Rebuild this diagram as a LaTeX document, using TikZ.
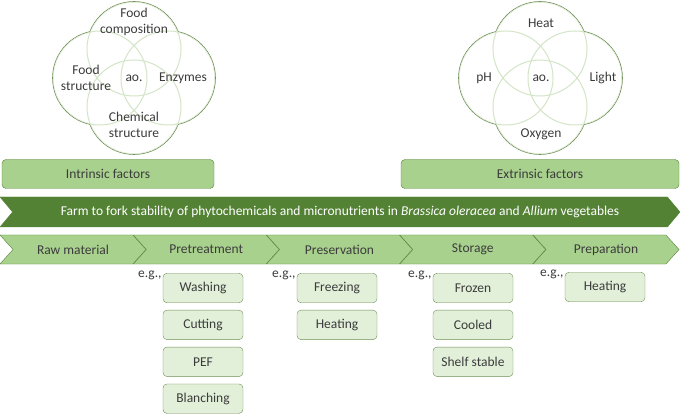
\documentclass[tikz,border=0pt]{standalone}
\usepackage{fontspec}
\setmainfont{Carlito}
\usetikzlibrary{positioning,shapes.symbols}

\definecolor{darkleaf}{HTML}{548235}
\definecolor{midleaf}{HTML}{A9D18E}
\definecolor{paleleaf}{HTML}{E2F0D9}
\definecolor{ringleaf}{HTML}{D3E5C6}
\definecolor{edgeleaf}{HTML}{6F8F58}
\definecolor{inkgray}{HTML}{3B3B3B}

\tikzset{
	label text/.style={font=\fontsize{13.5}{16}\selectfont, text=inkgray, align=center, inner sep=0pt},
	factor/.style={label text, draw=darkleaf, fill=midleaf, rounded corners=4pt, minimum height=29pt},
	stage/.style={label text, signal, signal from=west, signal to=east, signal pointer angle=96,
		draw=darkleaf, fill=midleaf, minimum width=146pt, minimum height=29pt},
	example/.style={label text, draw=edgeleaf, fill=paleleaf, rounded corners=4pt,
		minimum width=80pt, minimum height=29.5pt, inner xsep=4pt},
	eg/.style={label text, anchor=north east, xshift=-1pt, yshift=2pt}
}

\begin{document}
\begin{tikzpicture}[x=1pt,y=-1pt]
	\useasboundingbox (0,0) rectangle (680,414);
	
	% intrinsic venn
	\foreach \cx/\cy in {134/49, 134/107, 100/78, 168/78}
		\draw[edgeleaf, line width=1.6pt] (\cx,\cy) circle (47pt);
	\fill[white] (134,49) circle (47pt) (134,107) circle (47pt) (100,78) circle (47pt) (168,78) circle (47pt);
	\begin{scope}
		\clip (134,49) circle (47pt) (134,107) circle (47pt) (100,78) circle (47pt) (168,78) circle (47pt);
		\foreach \cx/\cy in {134/49, 134/107, 100/78, 168/78}
			\draw[ringleaf, line width=1pt] (\cx,\cy) circle (47pt);
	\end{scope}
	\node[label text] (fcomp) at (134,22) {Food\\composition};
	\node[label text] (fstruct) at (86,78) {Food\\structure};
	\node[label text] (aoin) at (134,78) {ao.};
	\node[label text] (enzymes) at (183,78) {Enzymes};
	\node[label text] (chem) at (134,125) {Chemical\\structure};
	
	% extrinsic venn
	\foreach \cx/\cy in {540/49, 540/107, 506/78, 575/78}
		\draw[edgeleaf, line width=1.6pt] (\cx,\cy) circle (47pt);
	\fill[white] (540,49) circle (47pt) (540,107) circle (47pt) (506,78) circle (47pt) (575,78) circle (47pt);
	\begin{scope}
		\clip (540,49) circle (47pt) (540,107) circle (47pt) (506,78) circle (47pt) (575,78) circle (47pt);
		\foreach \cx/\cy in {540/49, 540/107, 506/78, 575/78}
			\draw[ringleaf, line width=1pt] (\cx,\cy) circle (47pt);
	\end{scope}
	\node[label text] (heat) at (541,23) {Heat};
	\node[label text] (ph) at (484,78) {pH};
	\node[label text] (aoex) at (541,78) {ao.};
	\node[label text] (light) at (603,78) {Light};
	\node[label text] (oxygen) at (541,134) {Oxygen};
	
	% factor bars
	\node[factor, minimum width=212pt] (intrinsic) at (108,174) {Intrinsic factors};
	\node[factor, minimum width=278pt] (extrinsic) at (540,174) {Extrinsic factors};
	
	% farm to fork banner
	\node[stage, fill=darkleaf, draw=darkleaf, text=white, minimum width=680pt, minimum height=30pt,
		signal pointer angle=100] (banner) at (340,212)
		{Farm to fork stability of phytochemicals and micronutrients in \textit{Brassica oleracea} and \textit{Allium} vegetables};
	
	% stages
	\node[stage] (raw) at (73,249.5) {Raw material};
	\node[stage] (pretreat) at (206.25,249.5) {Pretreatment};
	\node[stage] (preserve) at (339.5,249.5) {Preservation};
	\node[stage] (storage) at (472.75,249.5) {Storage};
	\node[stage] (prep) at (606,249.5) {Preparation};
	
	% pretreatment examples
	\node[example] (washing) at (203,288) {Washing};
	\node[example, below=7pt of washing] (cutting) {Cutting};
	\node[example, below=7pt of cutting] (pef) {PEF};
	\node[example, below=7pt of pef] (blanching) {Blanching};
	\node[eg] (egpre) at (washing.north west) {e.g.,};
	
	% preservation examples
	\node[example] (freezing) at (337,288) {Freezing};
	\node[example, below=7pt of freezing] (heatpres) {Heating};
	\node[eg] (egpres) at (freezing.north west) {e.g.,};
	
	% storage examples
	\node[example] (frozen) at (473,288) {Frozen};
	\node[example, below=7pt of frozen] (cooled) {Cooled};
	\node[example, below=7pt of cooled] (shelf) {Shelf stable};
	\node[eg] (egsto) at (frozen.north west) {e.g.,};
	
	% preparation examples
	\node[example] (heatprep) at (605,287) {Heating};
	\node[eg] (egprep) at (heatprep.north west) {e.g.,};
\end{tikzpicture}
\end{document}
